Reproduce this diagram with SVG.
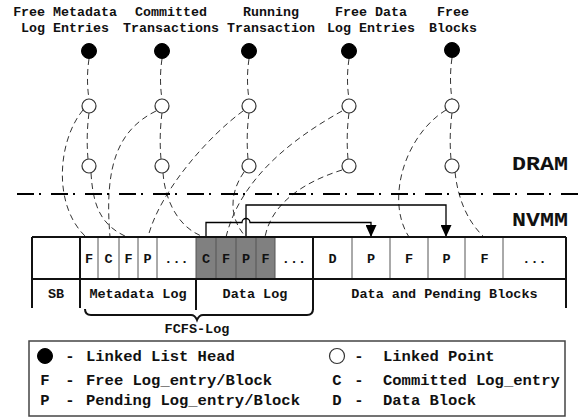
<svg xmlns="http://www.w3.org/2000/svg" width="580" height="420" viewBox="0 0 580 420">
  <style>
    text { font-family: "Liberation Mono", "Courier New", monospace; font-weight: bold; fill: #111; }
    .lbl { font-size: 13.3px; text-anchor: middle; }
    .cell { font-size: 13.5px; text-anchor: middle; }
    .leg { font-size: 15.5px; }
    .legc { font-size: 15.5px; text-anchor: middle; }
    .zone { font-size: 21px; }
    .head { fill: #000; stroke: #000; stroke-width: 1; }
    .pt { fill: #fff; stroke: #333; stroke-width: 1.2; }
    .link { fill: none; stroke: #333; stroke-width: 1; stroke-dasharray: 6 4; }
    .ptr { fill: none; stroke: #000; stroke-width: 1.3; }
    .thick { stroke: #111; stroke-width: 2; fill: none; }
    .thin { stroke: #555; stroke-width: 1; fill: none; }
  </style>
  <defs>
    <marker id="arrow" markerUnits="userSpaceOnUse" markerWidth="12" markerHeight="11" refX="12" refY="5.5" orient="auto">
      <path d="M0,0 L12,5.5 L0,11 z" fill="#000"/>
    </marker>
  </defs>

  <!-- list titles -->
  <g id="label-free-metadata">
    <text class="lbl" x="65" y="16">Free Metadata</text>
    <text class="lbl" x="65" y="32">Log Entries</text>
  </g>
  <g id="label-committed">
    <text class="lbl" x="171" y="16">Committed</text>
    <text class="lbl" x="171" y="32">Transactions</text>
  </g>
  <g id="label-running">
    <text class="lbl" x="271" y="16">Running</text>
    <text class="lbl" x="271" y="32">Transaction</text>
  </g>
  <g id="label-free-data">
    <text class="lbl" x="371" y="16">Free Data</text>
    <text class="lbl" x="371" y="32">Log Entries</text>
  </g>
  <g id="label-free-blocks">
    <text class="lbl" x="453" y="16">Free</text>
    <text class="lbl" x="453" y="32">Blocks</text>
  </g>

  <!-- dashed links and pending-block pointers -->
  <g id="connectors">
    <!-- head to first point, first point to second point -->
    <path class="link" d="M89,59 Q86,79 89,99"/>
    <path class="link" d="M89,113 Q86,136 88,159"/>
    <path class="link" d="M162,59 Q159,79 162,99"/>
    <path class="link" d="M162,113 Q159,136 161,159"/>
    <path class="link" d="M249,59 Q246,79 249,99"/>
    <path class="link" d="M249,113 Q246,136 248,159"/>
    <path class="link" d="M349,59 Q346,79 349,99"/>
    <path class="link" d="M349,113 Q346,136 348,159"/>
    <path class="link" d="M452,58 Q449,79 452,99"/>
    <path class="link" d="M452,113 Q449,136 451,159"/>
    <!-- points to log entries / blocks -->
    <path class="link" d="M83,110 C58,140 52,205 86,237"/>
    <path class="link" d="M91,173 C93,205 100,225 127,237"/>
    <path class="link" d="M156,111 C118,130 104,165 110,237"/>
    <path class="link" d="M163,173 C165,200 178,228 204,237"/>
    <path class="link" d="M243,111 C210,135 160,190 148,237"/>
    <path class="link" d="M244,172 C228,195 230,220 246,237"/>
    <path class="link" d="M342,111 C290,140 240,180 226,237"/>
    <path class="link" d="M342,170 C310,180 272,200 265,237"/>
    <path class="link" d="M446,110 C405,135 385,200 409,237"/>
    <path class="link" d="M455,172 C458,200 468,222 484,237"/>
    <!-- pending pointers -->
    <path class="ptr" d="M206,237 V222.5 H242 A4,4 0 0 1 250,222.5 H371 V237" marker-end="url(#arrow)"/>
    <path class="ptr" d="M246,237 V205 H446 V237" marker-end="url(#arrow)"/>
  </g>

  <!-- list heads -->
  <g id="head-free-metadata"><circle class="head" cx="89" cy="51" r="7.5"/></g>
  <g id="head-committed"><circle class="head" cx="162" cy="51" r="7.5"/></g>
  <g id="head-running"><circle class="head" cx="249" cy="51" r="7.5"/></g>
  <g id="head-free-data"><circle class="head" cx="349" cy="51" r="7.5"/></g>
  <g id="head-free-blocks"><circle class="head" cx="452" cy="50" r="7.5"/></g>

  <!-- linked points -->
  <g id="pt-free-metadata-1"><circle class="pt" cx="89" cy="106" r="7"/></g>
  <g id="pt-free-metadata-2"><circle class="pt" cx="89" cy="166" r="7"/></g>
  <g id="pt-committed-1"><circle class="pt" cx="162" cy="106" r="7"/></g>
  <g id="pt-committed-2"><circle class="pt" cx="162" cy="166" r="7"/></g>
  <g id="pt-running-1"><circle class="pt" cx="249" cy="106" r="7"/></g>
  <g id="pt-running-2"><circle class="pt" cx="249" cy="166" r="7"/></g>
  <g id="pt-free-data-1"><circle class="pt" cx="349" cy="106" r="7"/></g>
  <g id="pt-free-data-2"><circle class="pt" cx="349" cy="166" r="7"/></g>
  <g id="pt-free-blocks-1"><circle class="pt" cx="452" cy="106" r="7"/></g>
  <g id="pt-free-blocks-2"><circle class="pt" cx="452" cy="166" r="7"/></g>

  <!-- DRAM / NVMM boundary -->
  <g id="boundary">
    <path d="M17,194 H580" stroke="#000" stroke-width="2.2" stroke-dasharray="17 5 2 10" fill="none"/>
    <text class="zone" x="512" y="170" textLength="56" lengthAdjust="spacingAndGlyphs">DRAM</text>
    <text class="zone" x="512" y="226" textLength="56" lengthAdjust="spacingAndGlyphs">NVMM</text>
  </g>

  <!-- NVMM layout -->
  <g id="nvmm-layout">
    <rect x="196" y="237" width="79" height="42" fill="#808080"/>
    <g class="thin">
      <path d="M98,237 V279 M119,237 V279 M138,237 V279 M157,237 V279"/>
      <path d="M196,237 V279 M216,237 V279 M236,237 V279 M256,237 V279 M275,237 V279"/>
      <path d="M352,237 V279 M390,237 V279 M428,237 V279 M465,237 V279 M503,237 V279"/>
    </g>
    <path class="thick" d="M32,237 H566 M32,279 H566"/>
    <path class="thick" d="M32,237 V308 M80,237 V308 M196,279 V310 M313,237 V310 M566,237 V308"/>
    <text class="cell" x="89" y="263">F</text>
    <text class="cell" x="108.5" y="263">C</text>
    <text class="cell" x="128.5" y="263">F</text>
    <text class="cell" x="147.5" y="263">P</text>
    <text class="cell" x="176.5" y="263">...</text>
    <text class="cell" x="206" y="263">C</text>
    <text class="cell" x="226" y="263">F</text>
    <text class="cell" x="246" y="263">P</text>
    <text class="cell" x="265.5" y="263">F</text>
    <text class="cell" x="294" y="263">...</text>
    <text class="cell" x="332.5" y="263">D</text>
    <text class="cell" x="371" y="263">P</text>
    <text class="cell" x="409" y="263">F</text>
    <text class="cell" x="446.5" y="263">P</text>
    <text class="cell" x="484.5" y="263">F</text>
    <text class="cell" x="534.5" y="263">...</text>
    <text class="cell" x="56" y="298">SB</text>
    <text class="cell" x="138" y="298">Metadata Log</text>
    <text class="cell" x="255" y="298">Data Log</text>
    <text class="cell" x="444.5" y="298">Data and Pending Blocks</text>
  </g>

  <!-- FCFS-Log brace -->
  <g id="fcfs-log">
    <path class="thick" d="M85,309 Q85,315 91,315 H191 Q195,315 197,320 Q199,315 203,315 H307 Q313,315 313,309"/>
    <text class="cell" x="197" y="333">FCFS-Log</text>
  </g>

  <!-- legend -->
  <g id="legend">
    <rect x="29" y="341" width="536" height="75" fill="#fff" stroke="#444" stroke-width="1.5"/>
    <circle class="head" cx="45" cy="356" r="7.5"/>
    <text class="legc" x="70" y="361">-</text>
    <text class="leg" x="86" y="361">Linked List Head</text>
    <text class="legc" x="45" y="385">F</text>
    <text class="legc" x="70" y="385">-</text>
    <text class="leg" x="86" y="385">Free Log_entry/Block</text>
    <text class="legc" x="45" y="405">P</text>
    <text class="legc" x="70" y="405">-</text>
    <text class="leg" x="86" y="405">Pending Log_entry/Block</text>
    <circle class="pt" cx="337" cy="356" r="7.5"/>
    <text class="legc" x="359" y="361">-</text>
    <text class="leg" x="383" y="361">Linked Point</text>
    <text class="legc" x="337" y="385">C</text>
    <text class="legc" x="359" y="385">-</text>
    <text class="leg" x="383" y="385">Committed Log_entry</text>
    <text class="legc" x="337" y="405">D</text>
    <text class="legc" x="359" y="405">-</text>
    <text class="leg" x="383" y="405">Data Block</text>
  </g>
</svg>
